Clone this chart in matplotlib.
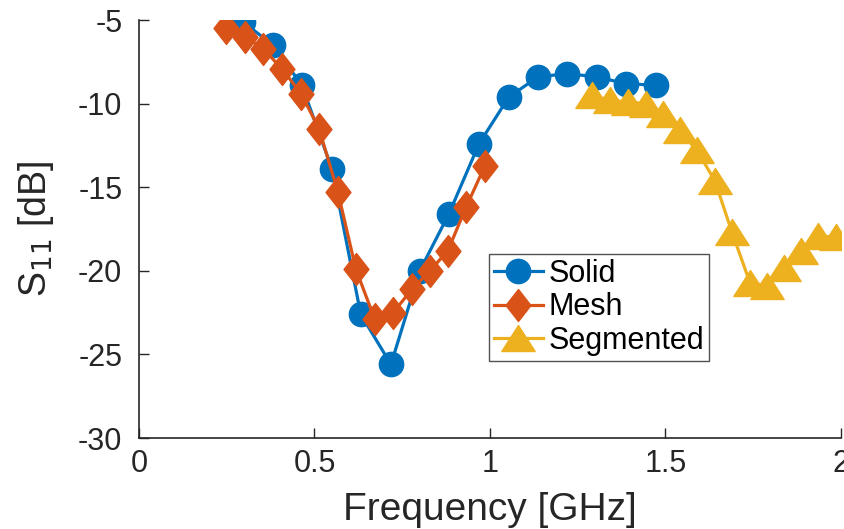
import matplotlib.pyplot as plt
from matplotlib.path import Path

# Values
solid_f = [0.296, 0.382, 0.464, 0.550, 0.632, 0.718, 0.800, 0.883, 0.969,
           1.054, 1.137, 1.220, 1.305, 1.387, 1.473]
solid_db = [-5.1, -6.5, -8.9, -13.9, -22.6, -25.6, -20.0, -16.6, -12.4,
            -9.6, -8.4, -8.2, -8.4, -8.8, -8.9]

mesh_f = [0.248, 0.302, 0.353, 0.407, 0.462, 0.513, 0.567, 0.618, 0.672,
          0.724, 0.778, 0.829, 0.880, 0.932, 0.986]
mesh_db = [-5.5, -6.0, -6.7, -7.9, -9.4, -11.5, -15.3, -19.9, -22.9,
           -22.5, -21.1, -20.0, -18.8, -16.2, -13.7]

seg_f = [1.291, 1.342, 1.393, 1.444, 1.493, 1.541, 1.590, 1.641, 1.690,
         1.741, 1.790, 1.838, 1.888, 1.935, 1.986]
seg_db = [-9.5, -9.8, -9.9, -10.0, -10.6, -11.6, -12.8, -14.6, -17.7,
          -20.7, -20.9, -19.8, -18.8, -17.9, -18.0]

yticks = [-30, -25, -20, -15, -10, -5]
xticks = [0, 0.5, 1, 1.5, 2]

blue = '#0072BD'
orange = '#D95319'
yellow = '#EDB120'

plt.rcParams['font.family'] = ['Liberation Sans', 'DejaVu Sans']

# matlab-like marker shapes (taller diamond, wider triangle)
diamond = Path([(0, 1), (0.78, 0), (0, -1), (-0.78, 0), (0, 1)],
               [Path.MOVETO, Path.LINETO, Path.LINETO, Path.LINETO, Path.CLOSEPOLY])
triangle = Path([(0, 0.78), (1, -0.78), (-1, -0.78), (0, 0.78)],
                [Path.MOVETO, Path.LINETO, Path.LINETO, Path.CLOSEPOLY])

fig = plt.figure(figsize=(8.44, 5.29), dpi=100)
ax = fig.add_axes([0.1647, 0.172, 0.8315, 0.79])

ax.plot(solid_f, solid_db, '-', color=blue, lw=2.3, marker='o',
        markersize=17.5, markeredgecolor=blue, label='Solid')
ax.plot(mesh_f, mesh_db, '-', color=orange, lw=2.3, marker=diamond,
        markersize=23, markeredgecolor=orange, label='Mesh')
ax.plot(seg_f, seg_db, '-', color=yellow, lw=2.3, marker=triangle,
        markersize=24, markeredgecolor=yellow, label='Segmented')

ax.set_xlim(0, 2)
ax.set_ylim(-30, -5)
ax.set_xticks(xticks)
ax.set_xticklabels(['0', '0.5', '1', '1.5', '2'])
ax.set_yticks(yticks)
ax.set_yticklabels([str(v) for v in yticks])
ax.tick_params(direction='in', length=7, width=1, labelsize=22, colors='#262626')
ax.tick_params(axis='x', pad=8)
ax.tick_params(axis='y', pad=12)

ax.spines['top'].set_visible(False)
ax.spines['right'].set_visible(False)
for s in ['left', 'bottom']:
    ax.spines[s].set_color('#262626')
    ax.spines[s].set_linewidth(1.2)

ax.set_xlabel('Frequency [GHz]', fontsize=28, color='#262626')
ax.set_ylabel(r'S$_{11}$ [dB]', fontsize=27, color='#262626')
ax.xaxis.set_label_coords(0.5, -0.13)
ax.yaxis.set_label_coords(-0.118, 0.5)

leg = ax.legend(loc='upper left', bbox_to_anchor=(0.499, 0.44), fontsize=22,
                frameon=True, fancybox=False, handlelength=1.6,
                handletextpad=0.2, borderpad=0.15, labelspacing=0.12,
                borderaxespad=0)
leg.get_frame().set_edgecolor('#262626')
leg.get_frame().set_linewidth(1.0)

fig.savefig('out.png', dpi=100)
